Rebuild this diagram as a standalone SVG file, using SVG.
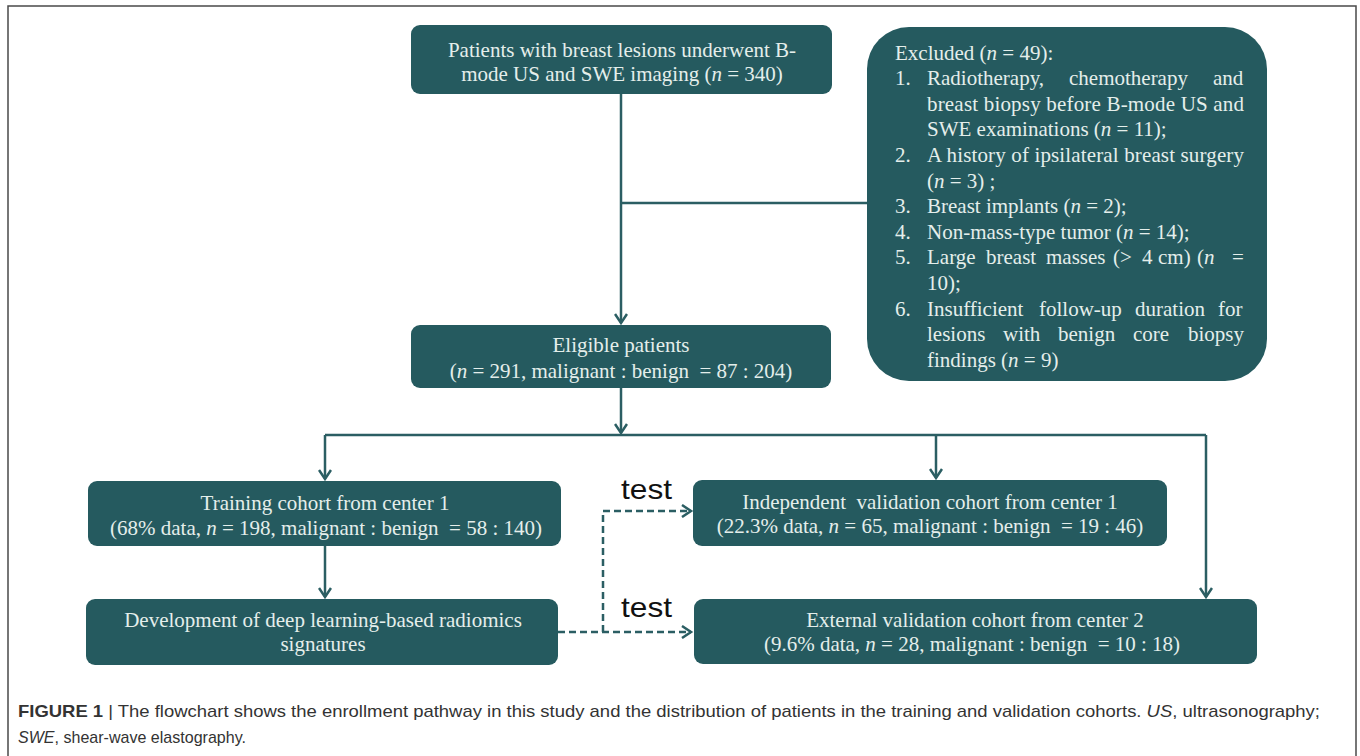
<svg xmlns="http://www.w3.org/2000/svg" width="1360" height="756" viewBox="0 0 1360 756">
<style>
.box{fill:#255a5f;}
.bt{font-family:"Liberation Serif","Times New Roman",serif;font-size:21px;fill:#e4eeeb;}
.c{text-anchor:middle;}
.ln{fill:none;stroke:#2b5e63;stroke-width:2.5;}
.dash{fill:none;stroke:#2b5e63;stroke-width:2.5;stroke-dasharray:7 4;}
.test{font-family:"Liberation Sans",Arial,sans-serif;font-size:28px;fill:#111;}
.cap{font-family:"Liberation Sans",Arial,sans-serif;font-size:17px;fill:#333;}
</style>
<defs>
<marker id="ah" markerWidth="14" markerHeight="14" refX="11" refY="7" orient="auto" markerUnits="userSpaceOnUse">
<path d="M2,1 L11,7 L2,13" fill="none" stroke="#2b5e63" stroke-width="2.5"/>
</marker>
</defs>
<rect width="1360" height="756" fill="#fff"/>
<path d="M8,756 V6 H1356 V756" fill="none" stroke="#4a4a4a" stroke-width="1.5"/>

<g id="connectors">
<path class="ln" d="M621,94 V323" marker-end="url(#ah)"/>
<path class="ln" d="M621,203 H867"/>
<path class="ln" d="M621,388 V433" marker-end="url(#ah)"/>
<path class="ln" d="M325,435 H1206"/>
<path class="ln" d="M325,435 V479" marker-end="url(#ah)"/>
<path class="ln" d="M936,435 V478" marker-end="url(#ah)"/>
<path class="ln" d="M1206,435 V597" marker-end="url(#ah)"/>
<path class="ln" d="M325,546 V597" marker-end="url(#ah)"/>
<path class="dash" d="M558,632 H691" marker-end="url(#ah)"/>
<path class="dash" d="M603,632 V511 H691" marker-end="url(#ah)"/>
<text class="test" x="621" y="499" textLength="51" lengthAdjust="spacingAndGlyphs">test</text>
<text class="test" x="621" y="617" textLength="51" lengthAdjust="spacingAndGlyphs">test</text>
</g>

<g id="patients">
<rect class="box" x="411" y="25" width="421" height="69" rx="9"/>
<text class="bt c" x="622" y="57">Patients with breast lesions underwent B-</text>
<text class="bt c" x="622" y="81">mode US and SWE imaging (<tspan font-style="italic">n</tspan> = 340)</text>
</g>

<g id="excluded">
<rect class="box" x="867" y="27" width="400" height="354" rx="42"/>
<text class="bt" x="895" y="59.5">Excluded (<tspan font-style="italic">n</tspan> = 49):</text>
<text class="bt" y="85.1"><tspan x="895">1.</tspan><tspan x="927">Radiotherapy,</tspan><tspan x="1069">chemotherapy</tspan><tspan x="1213">and</tspan></text>
<text class="bt" x="927" y="110.7" textLength="317" lengthAdjust="spacing">breast biopsy before B-mode US and</text>
<text class="bt" x="927" y="136.3">SWE examinations (<tspan font-style="italic">n</tspan> = 11);</text>
<text class="bt" x="895" y="161.9">2.</text>
<text class="bt" x="927" y="161.9" textLength="317" lengthAdjust="spacing">A history of ipsilateral breast surgery</text>
<text class="bt" x="927" y="187.5">(<tspan font-style="italic">n</tspan> = 3) ;</text>
<text class="bt" y="213.1"><tspan x="895">3.</tspan><tspan x="927">Breast implants (<tspan font-style="italic">n</tspan> = 2);</tspan></text>
<text class="bt" y="238.7"><tspan x="895">4.</tspan><tspan x="927">Non-mass-type tumor (<tspan font-style="italic">n</tspan> = 14);</tspan></text>
<text class="bt" y="264.3"><tspan x="895">5.</tspan><tspan x="927">Large</tspan><tspan x="986">breast</tspan><tspan x="1046">masses</tspan><tspan x="1113">(&gt;</tspan><tspan x="1142">4</tspan><tspan x="1158">cm)</tspan><tspan x="1197">(<tspan font-style="italic">n</tspan></tspan><tspan x="1232">=</tspan></text>
<text class="bt" x="927" y="289.9">10);</text>
<text class="bt" y="315.5"><tspan x="895">6.</tspan><tspan x="927">Insufficient</tspan><tspan x="1039">follow-up</tspan><tspan x="1135">duration</tspan><tspan x="1218">for</tspan></text>
<text class="bt" y="341.1"><tspan x="927">lesions</tspan><tspan x="1003">with</tspan><tspan x="1058">benign</tspan><tspan x="1133">core</tspan><tspan x="1188">biopsy</tspan></text>
<text class="bt" x="927" y="366.7">findings (<tspan font-style="italic">n</tspan> = 9)</text>
</g>

<g id="eligible">
<rect class="box" x="411" y="325" width="420" height="63" rx="9"/>
<text class="bt c" x="621" y="352">Eligible patients</text>
<text class="bt c" x="621" y="378" xml:space="preserve">(<tspan font-style="italic">n</tspan> = 291, malignant : benign  = 87 : 204)</text>
</g>

<g id="training">
<rect class="box" x="88" y="481" width="473" height="65" rx="9"/>
<text class="bt c" x="325" y="510">Training cohort from center 1</text>
<text class="bt c" x="326" y="535" xml:space="preserve">(68% data, <tspan font-style="italic">n</tspan> = 198, malignant : benign  = 58 : 140)</text>
</g>

<g id="development">
<rect class="box" x="86" y="599" width="472" height="66" rx="9"/>
<text class="bt c" x="323" y="627">Development of deep learning-based radiomics</text>
<text class="bt c" x="323" y="651">signatures</text>
</g>

<g id="independent">
<rect class="box" x="693" y="480" width="474" height="66" rx="9"/>
<text class="bt c" x="930" y="509" xml:space="preserve">Independent  validation cohort from center 1</text>
<text class="bt c" x="930" y="533" xml:space="preserve">(22.3% data, <tspan font-style="italic">n</tspan> = 65, malignant : benign  = 19 : 46)</text>
</g>

<g id="external">
<rect class="box" x="694" y="599" width="563" height="65" rx="9"/>
<text class="bt c" x="975" y="627">External validation cohort from center 2</text>
<text class="bt c" x="972" y="651" xml:space="preserve">(9.6% data, <tspan font-style="italic">n</tspan> = 28, malignant : benign  = 10 : 18)</text>
</g>

<g id="caption">
<text class="cap" x="18" y="717" textLength="1302" lengthAdjust="spacingAndGlyphs"><tspan font-weight="bold">FIGURE 1</tspan> | The flowchart shows the enrollment pathway in this study and the distribution of patients in the training and validation cohorts. <tspan font-style="italic">US</tspan>, ultrasonography;</text>
<text class="cap" x="18" y="743" textLength="228" lengthAdjust="spacingAndGlyphs"><tspan font-style="italic">SWE</tspan>, shear-wave elastography.</text>
</g>
</svg>
